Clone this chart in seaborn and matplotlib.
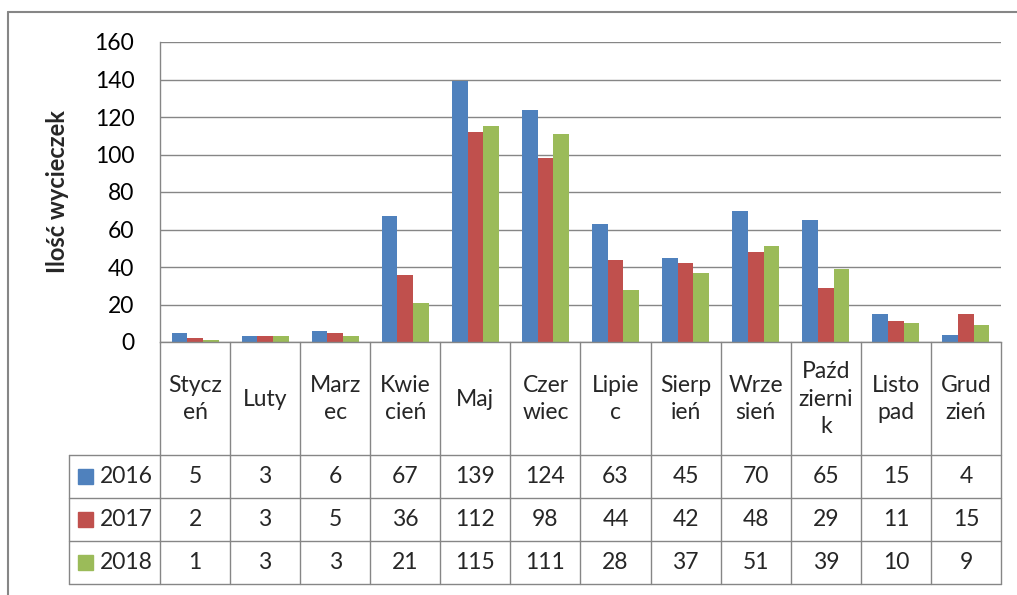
import pandas as pd
import matplotlib.pyplot as plt
import seaborn as sns
from matplotlib.patches import Rectangle
from matplotlib.lines import Line2D

# data
months = ["Styczeń", "Luty", "Marzec", "Kwiecień", "Maj", "Czerwiec",
          "Lipiec", "Sierpień", "Wrzesień", "Październik", "Listopad", "Grudzień"]
# how Excel wrapped the names in the table cells
month_labels = ["Stycz\neń", "Luty", "Marz\nec", "Kwie\ncień", "Maj", "Czer\nwiec",
                "Lipie\nc", "Sierp\nień", "Wrze\nsień", "Paźd\nzierni\nk", "Listo\npad", "Grud\nzień"]
years = ["2016", "2017", "2018"]
y2016 = [5, 3, 6, 67, 139, 124, 63, 45, 70, 65, 15, 4]
y2017 = [2, 3, 5, 36, 112, 98, 44, 42, 48, 29, 11, 15]
y2018 = [1, 3, 3, 21, 115, 111, 28, 37, 51, 39, 10, 9]
colors = ["#4F81BD", "#C0504D", "#9BBB59"]

series = [y2016, y2017, y2018]
rows = []
for yr, vals in zip(years, series):
    for m, v in zip(months, vals):
        rows.append({"Miesiąc": m, "Rok": yr, "Ilość": v})
df = pd.DataFrame(rows)

sns.set_style("white")
plt.rcParams["font.family"] = ["Lato", "DejaVu Sans"]
FS = 16.5
grey = "#868686"

W, H = 1017, 595
fig = plt.figure(figsize=(W / 100, H / 100), dpi=100)
ax = fig.add_axes([160 / W, 1 - 342 / H, (1001 - 160) / W, 300 / H])

sns.barplot(data=df, x="Miesiąc", y="Ilość", hue="Rok", order=months,
            hue_order=years, palette=colors, width=0.67, gap=0,
            linewidth=0, saturation=1, legend=False, ax=ax)

ax.set_xlim(-0.5, 11.5)
ax.set_ylim(0, 160)
ax.set_yticks(range(0, 161, 20))
ax.yaxis.grid(True, color=grey, linewidth=1)
ax.set_axisbelow(True)
ax.tick_params(axis="y", length=0, pad=18.5, labelsize=FS, colors="black")
ax.tick_params(axis="x", length=0, labelbottom=False)
ax.set_xlabel("")
ax.set_ylabel("Ilość wycieczek", fontsize=17, fontweight="bold")
ax.yaxis.set_label_coords(-0.108, 0.5)
for s in ["top", "right"]:
    ax.spines[s].set_visible(False)
for s in ["left", "bottom"]:
    ax.spines[s].set_color(grey)
    ax.spines[s].set_linewidth(1)

# data table below the plot (x in data units, y in axes units)
tr = ax.get_xaxis_transform()
px_x = 841 / 12  # pixels per category


def ypx(p):
    return (342 - p) / 300


leg_left = -0.5 + (69 - 160) / px_x
row_lines = [455, 498, 541, 584]
for k in range(13):
    ax.add_line(Line2D([k - 0.5, k - 0.5], [0, ypx(584)], transform=tr,
                       color=grey, lw=1, clip_on=False))
ax.add_line(Line2D([leg_left, leg_left], [ypx(455), ypx(584)], transform=tr,
                   color=grey, lw=1, clip_on=False))
for r in row_lines:
    ax.add_line(Line2D([leg_left, 11.5], [ypx(r), ypx(r)], transform=tr,
                       color=grey, lw=1, clip_on=False))

for i, lab in enumerate(month_labels):
    ax.text(i, ypx(399), lab, transform=tr, ha="center", va="center",
            fontsize=FS, linespacing=1.4)

row_centers = [476.5, 519.5, 562.5]
for yr, vals, c, rc in zip(years, series, colors, row_centers):
    ax.add_patch(Rectangle((-0.5 + (78 - 160) / px_x, ypx(rc + 7.5)), 15 / px_x, 15 / 300,
                           transform=tr, color=c, clip_on=False))
    ax.text(-0.5 + (100 - 160) / px_x, ypx(rc), yr, transform=tr, ha="left",
            va="center", fontsize=FS)
    for i, v in enumerate(vals):
        ax.text(i, ypx(rc), str(v), transform=tr, ha="center", va="center",
                fontsize=FS)

# outer chart frame
fig.add_artist(Line2D([8 / W, 8 / W], [0, 1 - 12 / H], color=grey, lw=1.5))
fig.add_artist(Line2D([8 / W, 1], [1 - 12 / H, 1 - 12 / H], color=grey, lw=1.5))

fig.savefig("out.png", dpi=100)
